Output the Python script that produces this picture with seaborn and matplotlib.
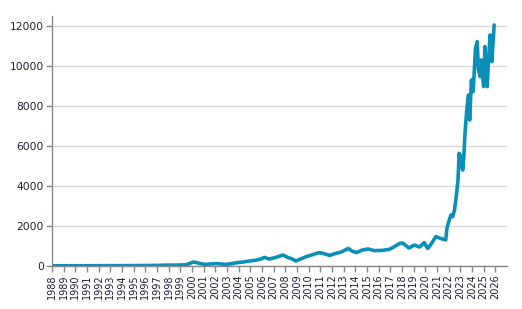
import matplotlib
matplotlib.use("Agg")
import matplotlib.pyplot as plt
import seaborn as sns
import pandas as pd

years = [1988.0, 1989.0, 1990.0, 1991.0, 1992.0, 1993.0, 1994.0, 1995.0, 1996.0, 1997.0,
         1997.5, 1998.0, 1998.5, 1999.0, 1999.5, 1999.9, 2000.1, 2000.4, 2000.8, 2001.1,
         2001.5, 2002.1, 2002.5, 2002.9, 2003.3, 2003.9, 2004.4, 2004.9, 2005.5, 2005.9,
         2006.2, 2006.6, 2007.0, 2007.4, 2007.8, 2008.2, 2008.6, 2008.9, 2009.3, 2009.8,
         2010.3, 2010.9, 2011.3, 2011.8, 2012.3, 2012.8, 2013.4, 2013.7, 2014.1, 2014.6,
         2015.1, 2015.6, 2016.3, 2016.9, 2017.3, 2017.8, 2018.05, 2018.6, 2019.05, 2019.5,
         2019.9, 2020.2, 2020.5, 2020.9, 2021.3, 2021.75, 2021.85, 2022.05, 2022.2, 2022.35,
         2022.5, 2022.65, 2022.8, 2022.9, 2023.05, 2023.1, 2023.2, 2023.3, 2023.4, 2023.55,
         2023.7, 2023.8, 2023.95, 2024.1, 2024.3, 2024.45, 2024.55, 2024.7, 2024.8, 2025.0,
         2025.1, 2025.3, 2025.4, 2025.55, 2025.7, 2025.9]
values = [10, 12, 10, 12, 15, 18, 18, 20, 25, 30,
          40, 45, 40, 50, 60, 150, 200, 170, 110, 80,
          100, 120, 100, 80, 110, 170, 200, 250, 290, 350,
          430, 350, 400, 470, 550, 430, 350, 250, 350, 470,
          560, 670, 620, 530, 630, 700, 880, 750, 670, 800,
          850, 770, 780, 830, 950, 1130, 1150, 900, 1050, 950,
          1170, 880, 1100, 1470, 1380, 1300, 1880, 2300, 2550, 2470,
          2800, 3470, 4300, 5630, 4970, 5500, 4800, 5470, 6630, 7800,
          8550, 7300, 9300, 8720, 10880, 11220, 9800, 9470, 10300, 8970,
          10970, 8970, 10130, 11550, 10220, 12050]
tick_years = list(range(1988, 2027))
y_ticks = [0, 2000, 4000, 6000, 8000, 10000, 12000]

df = pd.DataFrame({"year": years, "value": values})

sns.set_style("white")
plt.rcParams["font.family"] = ["DejaVu Sans"]

fig = plt.figure(figsize=(5.22, 3.09), dpi=100)
ax = fig.add_axes([52 / 522, 1 - 266 / 309, (507 - 52) / 522, (266 - 16) / 309])

sns.lineplot(data=df, x="year", y="value", ax=ax, color="#0a90b8",
             linewidth=2.6, estimator=None, sort=False)

ax.set_xlim(1988, 2027)
ax.set_ylim(0, 12500)
ax.set_xticks(tick_years)
ax.set_xticklabels([str(y) for y in tick_years], rotation=90, fontsize=7.0, color="#1c1c3c")
ax.set_yticks(y_ticks)
ax.set_yticklabels([str(v) for v in y_ticks], fontsize=7.7, color="#1c1c3c")
ax.set_xlabel("")
ax.set_ylabel("")

ax.yaxis.grid(True, color="#d9d9d9", linewidth=1)
ax.xaxis.grid(False)
ax.set_axisbelow(True)

for side in ["top", "right"]:
    ax.spines[side].set_visible(False)
for side in ["left", "bottom"]:
    ax.spines[side].set_color("#888888")
    ax.spines[side].set_linewidth(1)

ax.tick_params(axis="both", which="major", length=4, width=1, color="#888888", pad=2,
               bottom=True, left=True)

fig.savefig("out.png", dpi=100)
